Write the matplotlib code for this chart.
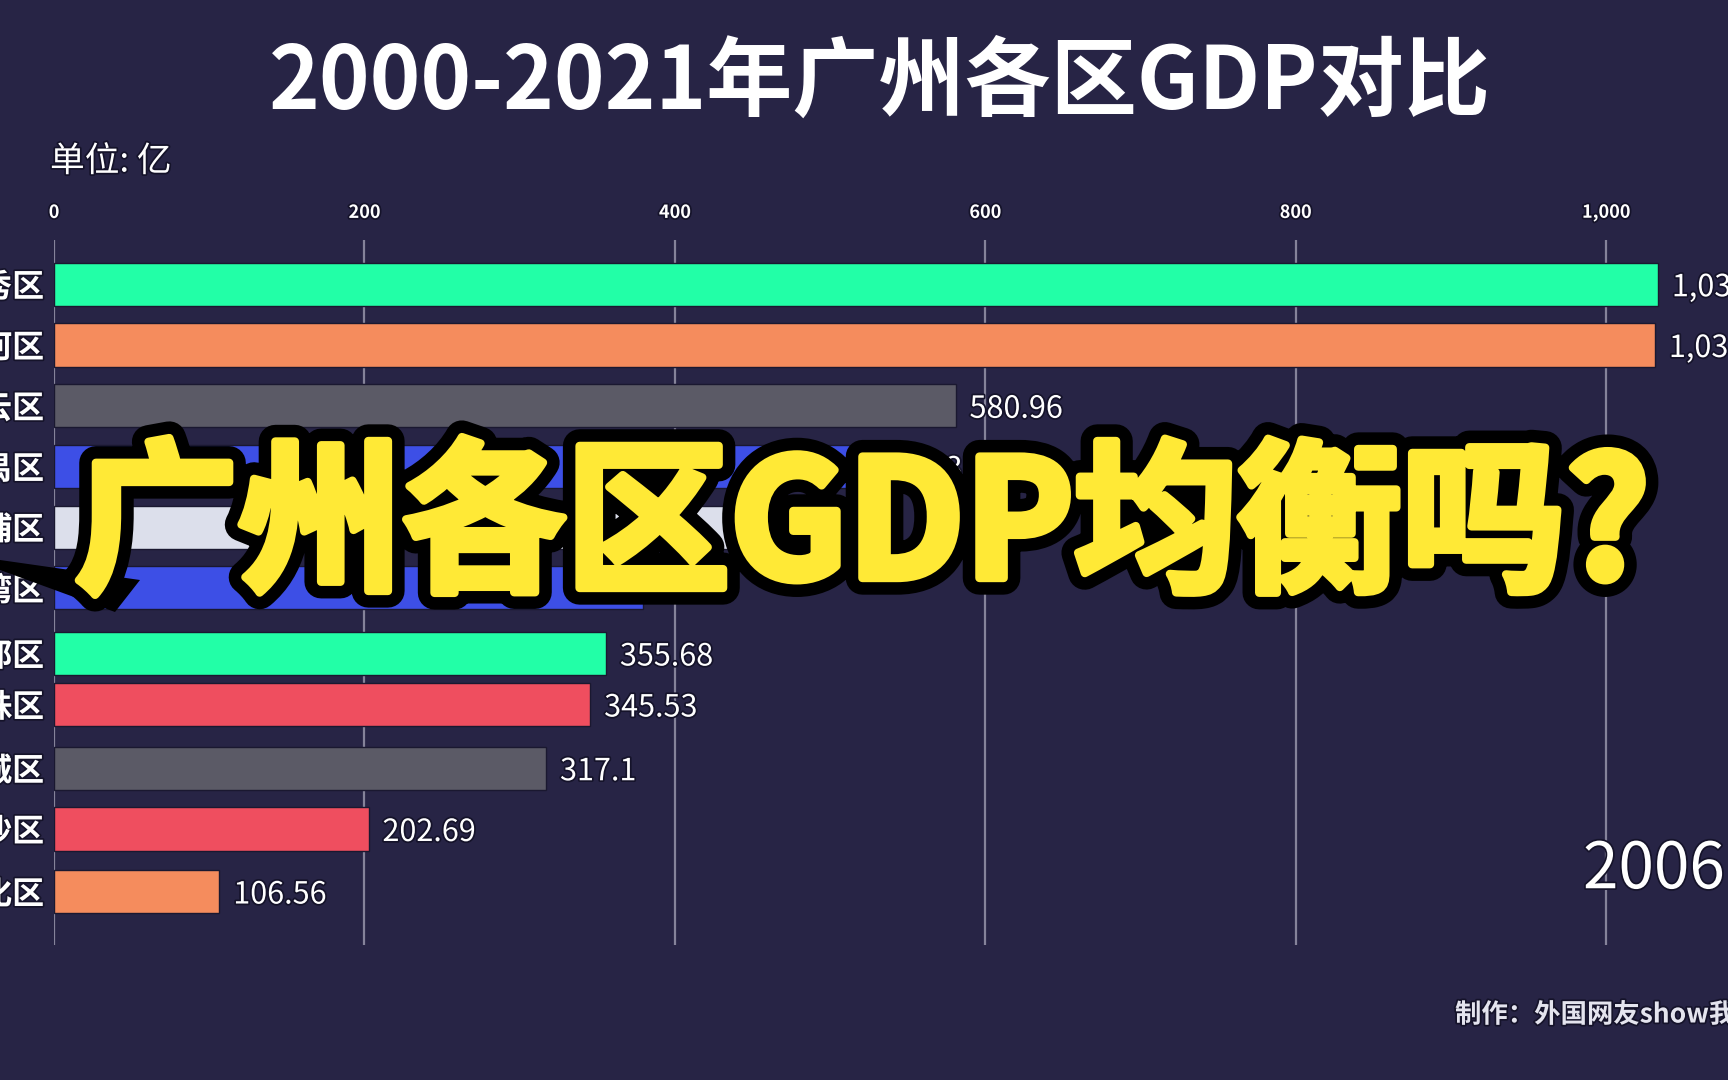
import matplotlib
matplotlib.use("Agg")
import matplotlib.pyplot as plt
import matplotlib.patheffects as pe
from matplotlib.patches import Polygon

plt.rcParams['font.family'] = ['Noto Sans CJK SC', 'DejaVu Sans']

# data for this frame (year 2006), unit: 亿元
districts = ["越秀区", "天河区", "白云区", "番禺区", "黄埔区", "荔湾区",
             "花都区", "海珠区", "增城区", "南沙区", "从化区"]
gdp = [1033.5, 1031.6, 580.96, 543.6, 480.2, 379.5,
       355.68, 345.53, 317.1, 202.69, 106.56]
# bar positions in the animation frame (rank, mid-transition)
rank = [0, 1, 2, 3, 4, 5, 6.08, 6.92, 7.97, 8.97, 10.0]
year = "2006"
xticks = [0, 200, 400, 600, 800, 1000]

colors = {"越秀区": "#22FFA7", "天河区": "#F58C5D", "白云区": "#5B5A66",
          "番禺区": "#3D4FE6", "黄埔区": "#DCDFEB", "荔湾区": "#3D4FE6",
          "花都区": "#22FFA7", "海珠区": "#EF4E5F", "增城区": "#5B5A66",
          "南沙区": "#EF4E5F", "从化区": "#F58C5D"}

BG = "#272445"
GRID = "#85839A"

fig = plt.figure(figsize=(17.28, 10.8), dpi=100, facecolor=BG)
ax = fig.add_axes([54 / 1728, 0.125, 1 - 54 / 1728, 0.6528])
ax.set_facecolor(BG)

ax.barh(rank, gdp, height=0.71, color=[colors[d] for d in districts],
        edgecolor="#1a1830", linewidth=1.0, zorder=3)

shadow = [pe.withStroke(linewidth=2.5, foreground="#15132a")]

def fmt(v):
    s = f"{v:,.2f}"
    return s.rstrip("0").rstrip(".")

for r, v in zip(rank, gdp):
    ax.annotate(fmt(v), (v, r), xytext=(10, -2.5), textcoords="offset points",
                ha="left", va="center", fontsize=22, color="white",
                path_effects=shadow, zorder=4, annotation_clip=False)

ax.set_xlim(0, (1728 - 54) / 1.552)
ax.set_ylim(10.88, -0.73)

ax.set_yticks(rank, labels=districts)
ax.tick_params(axis="y", length=0, pad=7, labelsize=23, labelcolor="white")
for t in ax.get_yticklabels():
    t.set_fontweight("bold")
    t.set_path_effects(shadow)

ax.xaxis.tick_top()
ax.set_xticks(xticks, labels=[f"{x:,}" for x in xticks])
ax.tick_params(axis="x", length=0, pad=13, labelsize=13, labelcolor="white")
for t in ax.get_xticklabels():
    t.set_fontweight("bold")
    t.set_path_effects(shadow)

ax.grid(axis="x", color=GRID, linewidth=1.6, zorder=1)
ax.grid(axis="y", visible=False)
for s in ax.spines.values():
    s.set_visible(False)

# titles and notes
fig.text(880 / 1728, 1 - 83 / 1080, "2000-2021年广州各区GDP对比", ha="center",
         va="center", fontsize=62, fontweight="bold", color="white")
fig.text(50 / 1728, 1 - 162 / 1080, "单位: 亿", ha="left", va="center",
         fontsize=25, fontweight="medium", color="white", path_effects=shadow)
fig.text(1583 / 1728, 1 - 870 / 1080, year, ha="left", va="center",
         fontsize=46, color="white", path_effects=shadow)
fig.text(1455 / 1728, 1 - 1015 / 1080, "制作：外国网友show我", ha="left",
         va="center", fontsize=19, fontweight="bold", color="#E4E4EE",
         path_effects=shadow)

# big yellow caption with speech-bubble tail
tail = Polygon([(0, 1 - 560 / 1080), (0, 1 - 570 / 1080),
                (115 / 1728, 1 - 612 / 1080), (140 / 1728, 1 - 580 / 1080)],
               closed=True, transform=fig.transFigure, facecolor="black",
               edgecolor="none", zorder=5)
fig.patches.append(tail)
fig.text(862 / 1728, 1 - 530 / 1080, "广州各区GDP均衡吗?", ha="center",
         va="center", fontsize=118, fontweight="heavy", color="#FFE936",
         zorder=6,
         path_effects=[pe.withStroke(linewidth=24, foreground="black"),
                       pe.withStroke(linewidth=6, foreground="#FFE936")])

fig.savefig("out.png", dpi=100, facecolor=BG)
